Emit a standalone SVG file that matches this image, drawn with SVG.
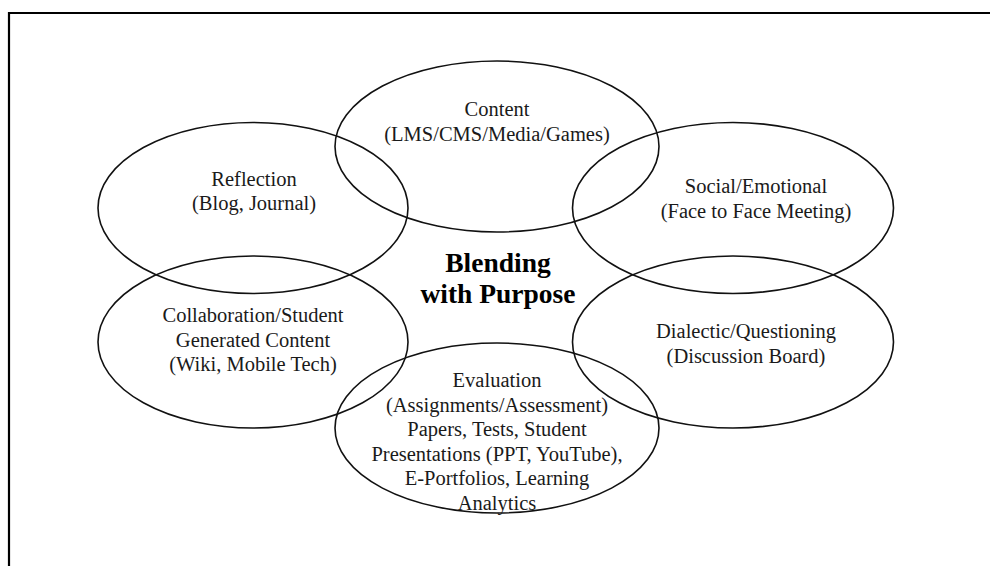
<svg xmlns="http://www.w3.org/2000/svg" width="990" height="566" viewBox="0 0 990 566">
  <style>
    .oval { fill: none; stroke: #111; stroke-width: 1.6; }
    .lbl { font-family: "Liberation Serif", "Times New Roman", serif; font-size: 20.5px; fill: #1a1a1a; text-anchor: middle; }
    .hub { font-family: "Liberation Serif", "Times New Roman", serif; font-size: 27.5px; font-weight: bold; fill: #000; text-anchor: middle; }
  </style>
  <rect width="990" height="566" fill="#fff"/>
  <!-- outer frame, open on the right and bottom -->
  <path d="M9 566 V13 H990" fill="none" stroke="#000" stroke-width="2.2"/>

  <g id="connectors"></g>

  <g id="reflection">
    <ellipse class="oval" cx="253" cy="208" rx="155" ry="85.5"/>
    <text class="lbl" x="254" y="186">Reflection</text>
    <text class="lbl" x="254" y="210">(Blog, Journal)</text>
  </g>

  <g id="content">
    <ellipse class="oval" cx="497" cy="146.5" rx="162" ry="85.5"/>
    <text class="lbl" x="497" y="116">Content</text>
    <text class="lbl" x="497" y="141">(LMS/CMS/Media/Games)</text>
  </g>

  <g id="social">
    <ellipse class="oval" cx="733" cy="208" rx="160.5" ry="85.5"/>
    <text class="lbl" x="756" y="193">Social/Emotional</text>
    <text class="lbl" x="756" y="218">(Face to Face Meeting)</text>
  </g>

  <g id="collaboration">
    <ellipse class="oval" cx="253" cy="342" rx="155" ry="86"/>
    <text class="lbl" x="253" y="322">Collaboration/Student</text>
    <text class="lbl" x="253" y="347">Generated Content</text>
    <text class="lbl" x="253" y="371">(Wiki, Mobile Tech)</text>
  </g>

  <g id="dialectic">
    <ellipse class="oval" cx="733" cy="342" rx="160.5" ry="86"/>
    <text class="lbl" x="746" y="338">Dialectic/Questioning</text>
    <text class="lbl" x="746" y="363">(Discussion Board)</text>
  </g>

  <g id="evaluation">
    <ellipse class="oval" cx="497" cy="428" rx="162" ry="85"/>
    <text class="lbl" x="497" y="387">Evaluation</text>
    <text class="lbl" x="497" y="411.5">(Assignments/Assessment)</text>
    <text class="lbl" x="497" y="436">Papers, Tests, Student</text>
    <text class="lbl" x="497" y="460.5">Presentations (PPT, YouTube),</text>
    <text class="lbl" x="497" y="485">E-Portfolios, Learning</text>
    <text class="lbl" x="497" y="509.5">Analytics</text>
  </g>

  <g id="hub">
    <text class="hub" x="498" y="272">Blending</text>
    <text class="hub" x="498" y="303">with Purpose</text>
  </g>
</svg>
